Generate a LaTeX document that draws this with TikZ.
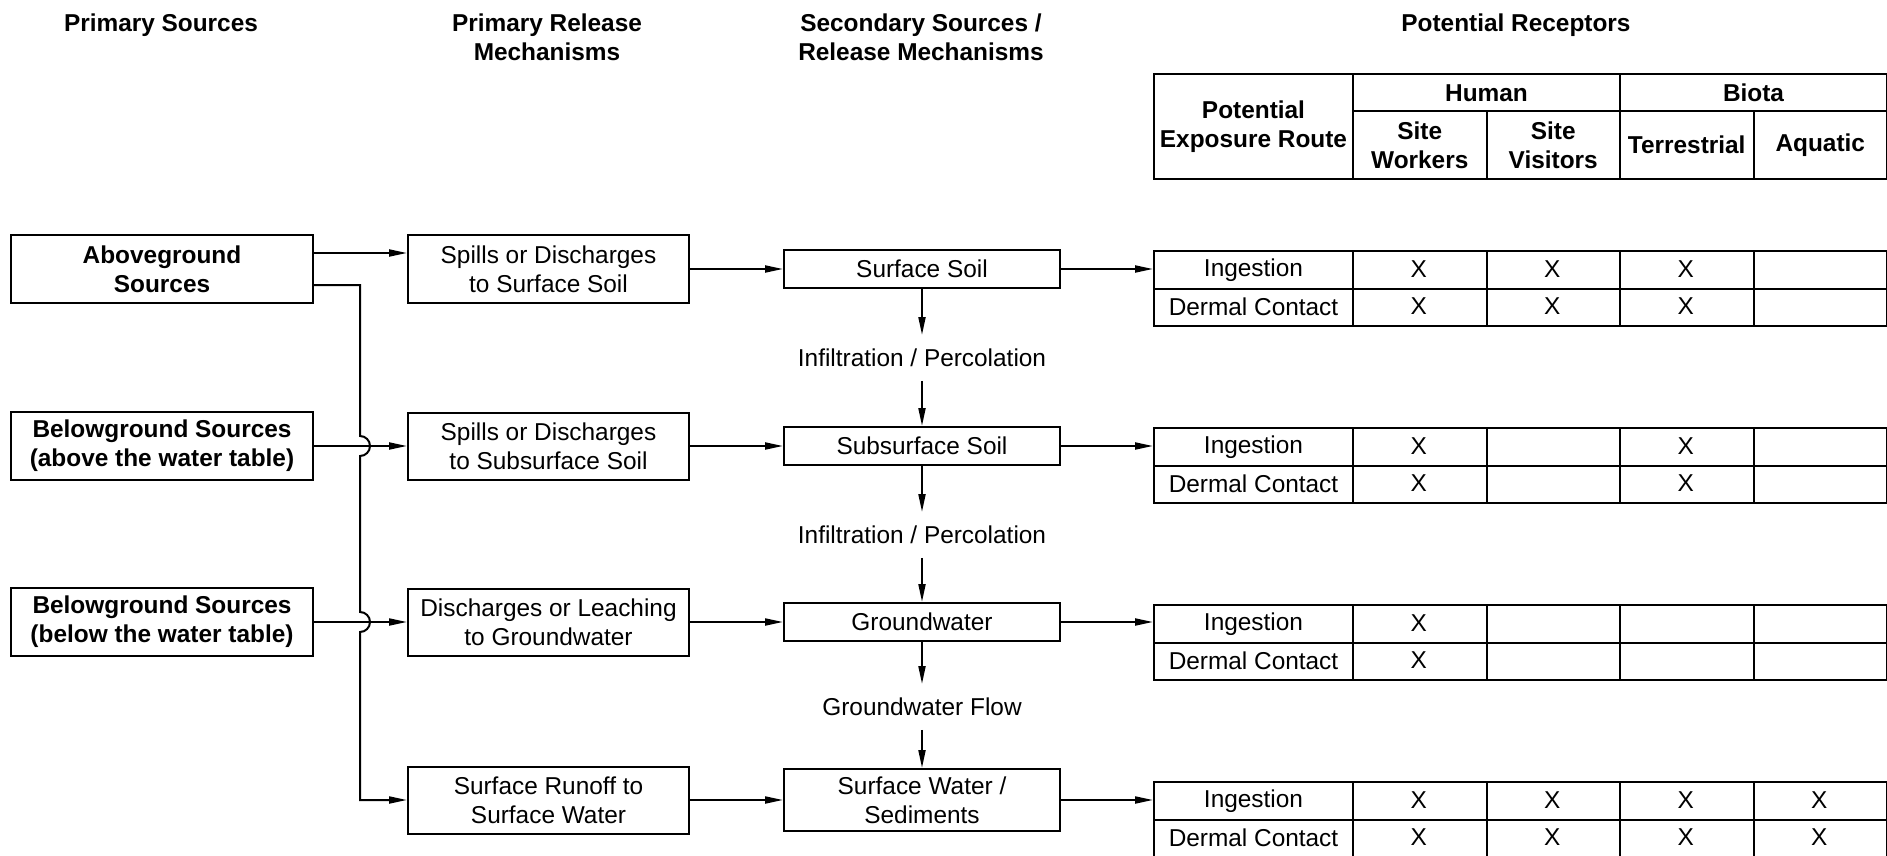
\documentclass[tikz,border=0pt]{standalone}
\usepackage{fontspec}
\setmainfont{Liberation Sans}
\usetikzlibrary{arrows.meta, positioning}
\newcommand{\diagfont}{\fontsize{12.2pt}{14.6pt}\selectfont}

\begin{document}
\begin{tikzpicture}[
    x=0.5pt, y=-0.5pt,
    every node/.style={align=center, font=\diagfont},
    head/.style={font=\diagfont\bfseries},
    src/.style={draw, line width=1pt, font=\diagfont\bfseries, minimum width=151pt, minimum height=34pt, inner sep=0pt},
    rel/.style={draw, line width=1pt, minimum width=140.5pt, minimum height=33.5pt, inner sep=0pt},
    sec/.style={draw, line width=1pt, minimum width=138pt, minimum height=19pt, inner sep=0pt},
    via/.style={minimum height=22.5pt, inner sep=0pt},
    cell/.style={draw, line width=1pt, anchor=north west, minimum height=18.75pt, inner sep=0pt},
    route/.style={cell, minimum width=99.5pt},
    xcell/.style={cell, minimum width=66.75pt},
    bold/.style={font=\diagfont\bfseries},
    flow/.style={-{Triangle[length=9pt, width=3.5pt]}, line width=1pt}
]
    \useasboundingbox (0,0) rectangle (1887,856);

    % Column headers
    \node[head] (hsrc) at (161,25) {Primary Sources};
    \node[head] (hrel) at (547,37) {Primary Release\\Mechanisms};
    \node[head] (hsec) at (921,37) {Secondary Sources /\\Release Mechanisms};
    \node[head] (hrec) at (1516,25) {Potential Receptors};

    % Primary sources
    \node[src] (above) at (162,269) {Aboveground\\Sources};
    \node[src] (belowA) at (162,446) {Belowground Sources\\(above the water table)};
    \node[src] (belowB) at (162,622) {Belowground Sources\\(below the water table)};

    % Primary release mechanisms
    \node[rel, right=46.5pt of above] (spillSurf) {Spills or Discharges\\to Surface Soil};
    \node[rel, right=46.5pt of belowA] (spillSub) {Spills or Discharges\\to Subsurface Soil};
    \node[rel, right=46.5pt of belowB] (leach) {Discharges or Leaching\\to Groundwater};
    \node[rel, below=54.5pt of leach] (runoff) {Surface Runoff to\\Surface Water};

    % Secondary sources
    \node[sec, right=46.5pt of spillSurf] (surfSoil) {Surface Soil};
    \node[sec, right=46.5pt of spillSub] (subSoil) {Subsurface Soil};
    \node[sec, right=46.5pt of leach] (gw) {Groundwater};
    \node[sec, right=46.5pt of runoff, minimum height=31pt] (surfWater) {Surface Water /\\Sediments};

    \node[via, below=23pt of surfSoil] (perc1) {Infiltration / Percolation};
    \node[via, below=23pt of subSoil] (perc2) {Infiltration / Percolation};
    \node[via, below=21pt of gw] (gwFlow) {Groundwater Flow};

    % Receptor table header
    \node[route, bold, minimum height=52.5pt] (hroute) at (1153,73) {Potential\\Exposure Route};
    \node[cell, bold, minimum width=133.5pt] (human) at (1352,73) {Human};
    \node[cell, bold, minimum width=133.5pt] (biota) at (1619,73) {Biota};
    \node[xcell, bold, minimum height=34pt] (workers) at (1352,110) {Site\\Workers};
    \node[xcell, bold, minimum height=34pt] (visitors) at (1485.5,110) {Site\\Visitors};
    \node[xcell, bold, minimum height=34pt] (terr) at (1619,110) {Terrestrial};
    \node[xcell, bold, minimum height=34pt] (aquatic) at (1752.5,110) {Aquatic};

    % Receptor table rows
    \foreach \g/\rowy/\cols in {1/250/{1,2,3}, 2/427/{1,3}, 3/604/{1}, 4/781/{1,2,3,4}} {
        \node[route] (ing\g) at (1153,\rowy) {Ingestion};
        \node[route] (derm\g) at (1153,\rowy+37.5) {Dermal Contact};
        \foreach \c in {1,...,4} {
            \node[xcell] (m\g\c a) at ({1218.5+133.5*\c},\rowy) {};
            \node[xcell] (m\g\c b) at ({1218.5+133.5*\c},\rowy+37.5) {};
        }
        \foreach \c in \cols {
            \node (x\g\c a) at ({1285.25+133.5*\c},\rowy+18.75) {X};
            \node (x\g\c b) at ({1285.25+133.5*\c},\rowy+56.25) {X};
        }
    }

    % Arrows from sources
    \coordinate (aboveUp) at ([yshift=8pt]above.east);
    \coordinate (aboveLow) at ([yshift=-8pt]above.east);
    \draw[flow] (aboveUp) -- (aboveUp -| spillSurf.west);
    \draw[flow] (aboveLow) -| (360,436) arc[start angle=90, end angle=-90, radius=5pt]
        -- (360,612) arc[start angle=90, end angle=-90, radius=5pt] |- (runoff.west);
    \draw[flow] (belowA.east) -- (spillSub.west);
    \draw[flow] (belowB.east) -- (leach.west);

    % Release to secondary sources
    \draw[flow] (spillSurf.east) -- (surfSoil.west);
    \draw[flow] (spillSub.east) -- (subSoil.west);
    \draw[flow] (leach.east) -- (gw.west);
    \draw[flow] (runoff.east) -- (surfWater.west);

    % Migration between media
    \draw[flow] (surfSoil) -- (perc1);
    \draw[flow] (perc1) -- (subSoil);
    \draw[flow] (subSoil) -- (perc2);
    \draw[flow] (perc2) -- (gw);
    \draw[flow] (gw) -- (gwFlow);
    \draw[flow] (gwFlow) -- (surfWater);

    % To exposure routes
    \draw[flow] (surfSoil.east) -- (surfSoil.east -| ing1.west);
    \draw[flow] (subSoil.east) -- (subSoil.east -| ing2.west);
    \draw[flow] (gw.east) -- (gw.east -| ing3.west);
    \draw[flow] (surfWater.east) -- (surfWater.east -| ing4.west);
\end{tikzpicture}
\end{document}
